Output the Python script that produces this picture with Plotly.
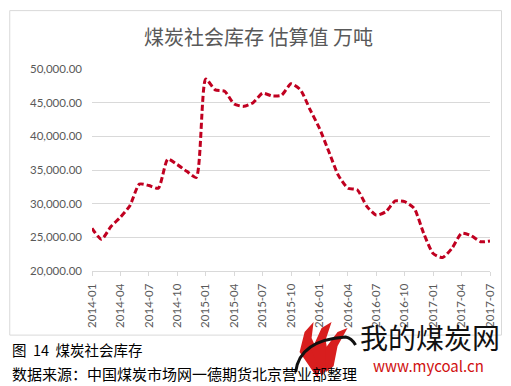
import plotly.graph_objects as go

months = [f"{y}-{m:02d}" for y in (2014, 2015, 2016, 2017) for m in range(1, 13)][:43]
stock = [26350, 24700, 26600, 28000, 29700, 32900, 32700, 32300, 36600, 35800, 34800, 33900,
         48500, 46900, 46700, 44800, 44450, 45000, 46400, 46000, 46100, 47800, 46900, 44000,
         41200, 37700, 34200, 32300, 32050, 29600, 28300, 28800, 30400, 30300, 29300, 25600,
         22600, 22000, 23400, 25600, 25250, 24350, 24450]
tick_labels = months[::3]
y_ticks = [20000, 25000, 30000, 35000, 40000, 45000, 50000]

W, H = 511, 386
L, R, T, B = 92.3, 490.5, 69.3, 271.0

def px(x):
    return (x - L) / (R - L)

def py(y):
    return (B - y) / (B - T)

fig = go.Figure()
fig.add_trace(go.Scatter(
    x=list(range(len(months))), y=stock, mode="lines",
    line=dict(color="#C00020", width=3, dash="6px,3px", shape="spline", smoothing=0.6),
    hoverinfo="skip", showlegend=False))

fig.update_layout(
    width=W, height=H, margin=dict(l=L, r=W - R, t=T, b=H - B),
    paper_bgcolor="white", plot_bgcolor="white",
    font=dict(family="Lato, 'Noto Sans CJK SC', sans-serif", color="#595959"),
    xaxis=dict(range=[0, len(months) - 1], tickmode="array",
               tickvals=list(range(0, len(months), 3)), ticktext=tick_labels,
               tickangle=-90, tickfont=dict(size=11.5, color="#595959"),
               ticklabelstandoff=3,
               showgrid=False, zeroline=False, showline=True, linecolor="#D9D9D9",
               ticks="outside", ticklen=4, tickcolor="#D9D9D9", fixedrange=True),
    yaxis=dict(range=[20000, 50000], tickmode="array", tickvals=y_ticks,
               ticktext=[f"{v:,.2f}" for v in y_ticks],
               tickfont=dict(size=11.5, color="#595959"),
               ticklabelstandoff=9,
               showgrid=True, gridcolor="#D9D9D9", gridwidth=1, zeroline=False,
               showline=False, ticks="", fixedrange=True),
)

# chart border
fig.add_shape(type="rect", xref="paper", yref="paper",
              x0=px(10), x1=px(502), y0=py(335), y1=py(11),
              line=dict(color="#D9D9D9", width=1), layer="below")

ann = [
    dict(text="煤炭社会库存 估算值 万吨", x=px(259), y=py(37), size=20,
         color="#595959", xanchor="center"),
    dict(text="图  14  煤炭社会库存", x=px(10), y=py(349), size=14.5,
         color="#000000", xanchor="left"),
    dict(text="数据来源：中国煤炭市场网一德期货北京营业部整理", x=px(10), y=py(373), size=15,
         color="#000000", xanchor="left"),
    dict(text="我的煤炭网", x=px(430), y=py(337), size=28, color="#111111",
         xanchor="center"),
    dict(text="www.mycoal.cn", x=px(429), y=py(365), size=15, color="#D01010",
         xanchor="center"),
]
for a in ann:
    fig.add_annotation(text=a["text"], xref="paper", yref="paper", x=a["x"], y=a["y"],
                       xanchor=a["xanchor"], yanchor="middle", showarrow=False,
                       font=dict(size=a["size"], color=a["color"],
                                 family="'Noto Sans CJK SC', Lato, sans-serif"))

# simple flame-like logo
def path(pts):
    d = "M " + " L ".join(f"{px(x)},{py(y)}" for x, y in pts) + " Z"
    return d

flames = [
    [(318, 378), (300, 352), (305, 332), (314, 322), (312, 338), (322, 360)],
    [(322, 376), (312, 350), (322, 328), (332, 322), (326, 340), (330, 362)],
    [(326, 372), (326, 348), (338, 332), (348, 328), (338, 346), (334, 366)],
]
for f in flames:
    fig.add_shape(type="path", xref="paper", yref="paper", path=path(f),
                  fillcolor="#D81E1E", line=dict(width=0))
fig.add_shape(type="path", xref="paper", yref="paper",
              path=f"M {px(296)},{py(372)} Q {px(300)},{py(340)} {px(346)},{py(337)} "
                   f"Q {px(352)},{py(338)} {px(356)},{py(345)}",
              line=dict(color="#111111", width=3))

fig.write_html("out.html", config={"displayModeBar": False},
               post_script="document.body.style.margin='0';document.body.style.overflow='hidden';")
